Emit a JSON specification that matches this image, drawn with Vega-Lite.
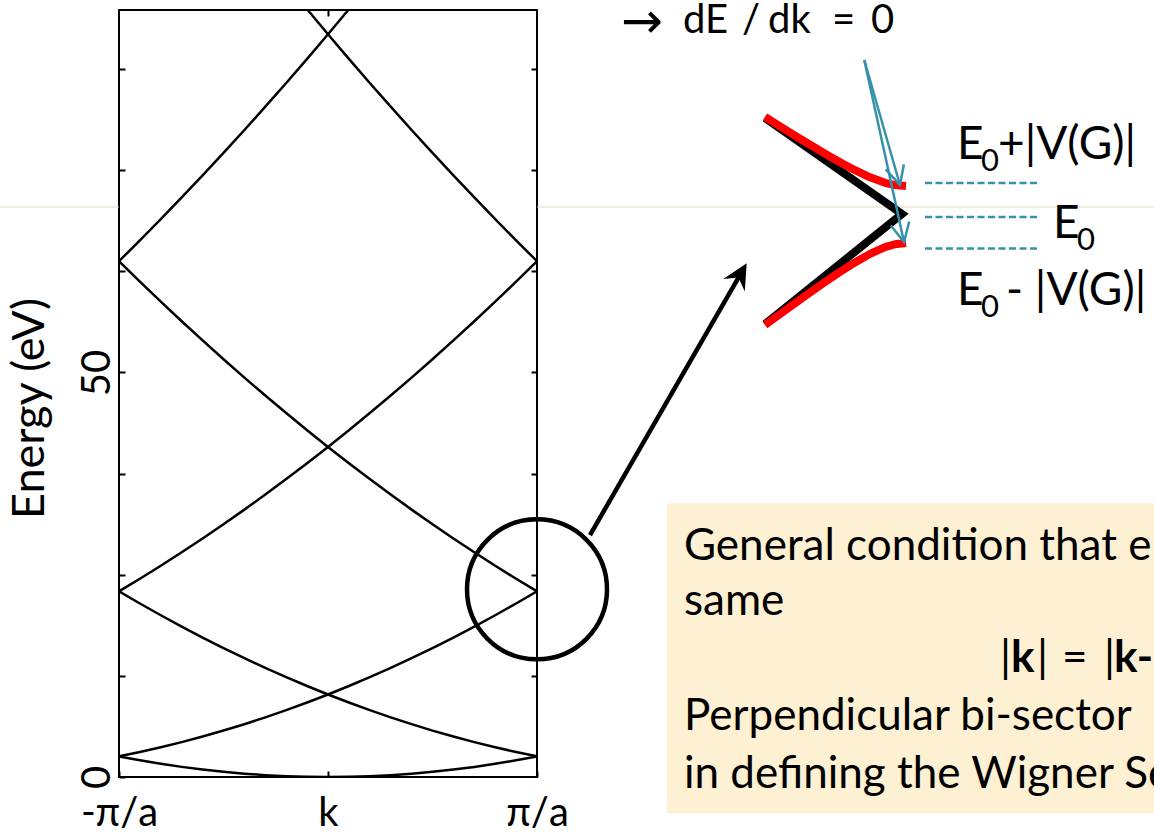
{
  "$schema": "https://vega.github.io/schema/vega-lite/v6.json",
  "width": 418,
  "height": 767,
  "autosize": {"type": "none"},
  "padding": {"left": 119, "top": 10, "right": 617, "bottom": 56},
  "background": "white",
  "config": {
    "view": {"stroke": "black", "strokeWidth": 2},
    "axis": {"grid": false},
    "font": "Lato"
  },
  "resolve": {"axis": {"x": "independent", "y": "independent"}},
  "layer": [
    {
      "data": {"values": [
        {"q": -1.6, "q2": -1.0, "E": 70.45},
        {"q": 1.0, "q2": 4.0, "E": 70.45}
      ]},
      "mark": {"type": "rule", "color": "#E4DAB8", "strokeWidth": 1},
      "encoding": {
        "x": {"field": "q", "type": "quantitative", "scale": {"domain": [-1, 1], "nice": false, "zero": false}, "axis": null},
        "x2": {"field": "q2"},
        "y": {"field": "E", "type": "quantitative", "scale": {"domain": [0, 94.8], "nice": false, "zero": false}, "axis": null}
      }
    },
    {
      "data": {"values": [
        {"q": 1.6206, "q2": 4.0, "E": 33.83, "E2": -4.49}
      ]},
      "mark": {"type": "rect", "color": "#FEF0D2"},
      "encoding": {
        "x": {"field": "q", "type": "quantitative", "scale": {"domain": [-1, 1], "nice": false, "zero": false}, "axis": null},
        "x2": {"field": "q2"},
        "y": {"field": "E", "type": "quantitative", "scale": {"domain": [0, 94.8], "nice": false, "zero": false}, "axis": null},
        "y2": {"field": "E2"}
      }
    },
    {
      "data": {"values": [
        {"b": "a", "q": -1, "E": 2.55}, {"b": "a", "q": -0.9, "E": 2.066}, {"b": "a", "q": -0.8, "E": 1.632}, {"b": "a", "q": -0.7, "E": 1.25}, {"b": "a", "q": -0.6, "E": 0.918}, {"b": "a", "q": -0.5, "E": 0.638}, {"b": "a", "q": -0.4, "E": 0.408}, {"b": "a", "q": -0.3, "E": 0.23}, {"b": "a", "q": -0.2, "E": 0.102}, {"b": "a", "q": -0.1, "E": 0.026}, {"b": "a", "q": 0, "E": 0}, {"b": "a", "q": 0.1, "E": 0.026}, {"b": "a", "q": 0.2, "E": 0.102}, {"b": "a", "q": 0.3, "E": 0.23}, {"b": "a", "q": 0.4, "E": 0.408}, {"b": "a", "q": 0.5, "E": 0.638}, {"b": "a", "q": 0.6, "E": 0.918}, {"b": "a", "q": 0.7, "E": 1.25}, {"b": "a", "q": 0.8, "E": 1.632}, {"b": "a", "q": 0.9, "E": 2.066}, {"b": "a", "q": 1, "E": 2.55},
        {"b": "b", "q": -1, "E": 2.55}, {"b": "b", "q": -0.9, "E": 3.086}, {"b": "b", "q": -0.8, "E": 3.672}, {"b": "b", "q": -0.7, "E": 4.31}, {"b": "b", "q": -0.6, "E": 4.998}, {"b": "b", "q": -0.5, "E": 5.738}, {"b": "b", "q": -0.4, "E": 6.528}, {"b": "b", "q": -0.3, "E": 7.37}, {"b": "b", "q": -0.2, "E": 8.262}, {"b": "b", "q": -0.1, "E": 9.206}, {"b": "b", "q": 0, "E": 10.2}, {"b": "b", "q": 0.1, "E": 11.246}, {"b": "b", "q": 0.2, "E": 12.342}, {"b": "b", "q": 0.3, "E": 13.49}, {"b": "b", "q": 0.4, "E": 14.688}, {"b": "b", "q": 0.5, "E": 15.938}, {"b": "b", "q": 0.6, "E": 17.238}, {"b": "b", "q": 0.7, "E": 18.59}, {"b": "b", "q": 0.8, "E": 19.992}, {"b": "b", "q": 0.9, "E": 21.446}, {"b": "b", "q": 1, "E": 22.95},
        {"b": "c", "q": 1, "E": 2.55}, {"b": "c", "q": 0.9, "E": 3.086}, {"b": "c", "q": 0.8, "E": 3.672}, {"b": "c", "q": 0.7, "E": 4.31}, {"b": "c", "q": 0.6, "E": 4.998}, {"b": "c", "q": 0.5, "E": 5.738}, {"b": "c", "q": 0.4, "E": 6.528}, {"b": "c", "q": 0.3, "E": 7.37}, {"b": "c", "q": 0.2, "E": 8.262}, {"b": "c", "q": 0.1, "E": 9.206}, {"b": "c", "q": 0, "E": 10.2}, {"b": "c", "q": -0.1, "E": 11.246}, {"b": "c", "q": -0.2, "E": 12.342}, {"b": "c", "q": -0.3, "E": 13.49}, {"b": "c", "q": -0.4, "E": 14.688}, {"b": "c", "q": -0.5, "E": 15.938}, {"b": "c", "q": -0.6, "E": 17.238}, {"b": "c", "q": -0.7, "E": 18.59}, {"b": "c", "q": -0.8, "E": 19.992}, {"b": "c", "q": -0.9, "E": 21.446}, {"b": "c", "q": -1, "E": 22.95},
        {"b": "d", "q": -1, "E": 22.95}, {"b": "d", "q": -0.9, "E": 24.506}, {"b": "d", "q": -0.8, "E": 26.112}, {"b": "d", "q": -0.7, "E": 27.77}, {"b": "d", "q": -0.6, "E": 29.478}, {"b": "d", "q": -0.5, "E": 31.238}, {"b": "d", "q": -0.4, "E": 33.048}, {"b": "d", "q": -0.3, "E": 34.91}, {"b": "d", "q": -0.2, "E": 36.822}, {"b": "d", "q": -0.1, "E": 38.786}, {"b": "d", "q": 0, "E": 40.8}, {"b": "d", "q": 0.1, "E": 42.866}, {"b": "d", "q": 0.2, "E": 44.982}, {"b": "d", "q": 0.3, "E": 47.15}, {"b": "d", "q": 0.4, "E": 49.368}, {"b": "d", "q": 0.5, "E": 51.638}, {"b": "d", "q": 0.6, "E": 53.958}, {"b": "d", "q": 0.7, "E": 56.33}, {"b": "d", "q": 0.8, "E": 58.752}, {"b": "d", "q": 0.9, "E": 61.226}, {"b": "d", "q": 1, "E": 63.75},
        {"b": "e", "q": 1, "E": 22.95}, {"b": "e", "q": 0.9, "E": 24.506}, {"b": "e", "q": 0.8, "E": 26.112}, {"b": "e", "q": 0.7, "E": 27.77}, {"b": "e", "q": 0.6, "E": 29.478}, {"b": "e", "q": 0.5, "E": 31.238}, {"b": "e", "q": 0.4, "E": 33.048}, {"b": "e", "q": 0.3, "E": 34.91}, {"b": "e", "q": 0.2, "E": 36.822}, {"b": "e", "q": 0.1, "E": 38.786}, {"b": "e", "q": 0, "E": 40.8}, {"b": "e", "q": -0.1, "E": 42.866}, {"b": "e", "q": -0.2, "E": 44.982}, {"b": "e", "q": -0.3, "E": 47.15}, {"b": "e", "q": -0.4, "E": 49.368}, {"b": "e", "q": -0.5, "E": 51.638}, {"b": "e", "q": -0.6, "E": 53.958}, {"b": "e", "q": -0.7, "E": 56.33}, {"b": "e", "q": -0.8, "E": 58.752}, {"b": "e", "q": -0.9, "E": 61.226}, {"b": "e", "q": -1, "E": 63.75},
        {"b": "f", "q": -1, "E": 63.75}, {"b": "f", "q": -0.9, "E": 66.326}, {"b": "f", "q": -0.8, "E": 68.952}, {"b": "f", "q": -0.7, "E": 71.63}, {"b": "f", "q": -0.6, "E": 74.358}, {"b": "f", "q": -0.5, "E": 77.138}, {"b": "f", "q": -0.4, "E": 79.968}, {"b": "f", "q": -0.3, "E": 82.85}, {"b": "f", "q": -0.2, "E": 85.782}, {"b": "f", "q": -0.1, "E": 88.766}, {"b": "f", "q": 0, "E": 91.8}, {"b": "f", "q": 0.1, "E": 94.886}, {"b": "f", "q": 0.2, "E": 98.022},
        {"b": "g", "q": 1, "E": 63.75}, {"b": "g", "q": 0.9, "E": 66.326}, {"b": "g", "q": 0.8, "E": 68.952}, {"b": "g", "q": 0.7, "E": 71.63}, {"b": "g", "q": 0.6, "E": 74.358}, {"b": "g", "q": 0.5, "E": 77.138}, {"b": "g", "q": 0.4, "E": 79.968}, {"b": "g", "q": 0.3, "E": 82.85}, {"b": "g", "q": 0.2, "E": 85.782}, {"b": "g", "q": 0.1, "E": 88.766}, {"b": "g", "q": 0, "E": 91.8}, {"b": "g", "q": -0.1, "E": 94.886}, {"b": "g", "q": -0.2, "E": 98.022}
      ]},
      "mark": {"type": "line", "color": "black", "strokeWidth": 2.5, "clip": true},
      "encoding": {
        "x": {"field": "q", "type": "quantitative", "scale": {"domain": [-1, 1], "nice": false, "zero": false},
          "axis": {"orient": "bottom", "values": [-1, 0, 1], "labelExpr": "datum.value == 0 ? 'k' : (datum.value < 0 ? '-π/a' : 'π/a')",
            "tickSize": -6, "tickWidth": 2, "tickColor": "black", "domain": false, "labelFontSize": 40, "labelFont": "Lato", "labelColor": "black",
            "labelPadding": 54, "labelBaseline": "alphabetic", "labelAlign": "center", "labelFlush": false, "labelOverlap": false, "title": null}},
        "y": {"field": "E", "type": "quantitative", "scale": {"domain": [0, 94.8], "nice": false, "zero": false},
          "axis": {"orient": "left", "values": [0, 12.5, 25, 37.5, 50, 62.5, 75, 87.5], "labelExpr": "datum.value == 0 ? '0' : (datum.value == 50 ? '50' : '')",
            "tickSize": -6, "tickWidth": 2, "tickColor": "black", "domain": false, "labelFontSize": 40, "labelFont": "Lato", "labelColor": "black",
            "labelAngle": -90, "labelPadding": 16, "labelBaseline": "alphabetic", "labelAlign": "center", "labelFlush": false, "labelOverlap": false,
            "title": "Energy (eV)", "titleFont": "Lato", "titleFontSize": 45, "titleFontWeight": "normal", "titleColor": "black",
            "titleAngle": 270, "titleX": -76, "titleY": 398, "titleAlign": "center", "titleBaseline": "alphabetic"}},
        "detail": {"field": "b"}
      }
    },
    {
      "data": {"values": [{"q": 1.0, "E": 23.2}]},
      "mark": {"type": "point", "shape": "circle", "size": 19600, "filled": false, "stroke": "black", "strokeWidth": 4.5, "opacity": 1},
      "encoding": {
        "x": {"field": "q", "type": "quantitative", "scale": {"domain": [-1, 1], "nice": false, "zero": false},
          "axis": {"orient": "top", "values": [0], "tickSize": -6, "tickWidth": 2, "tickColor": "black", "labels": false, "domain": false, "title": null}},
        "y": {"field": "E", "type": "quantitative", "scale": {"domain": [0, 94.8], "nice": false, "zero": false},
          "axis": {"orient": "right", "values": [12.5, 25, 37.5, 50, 62.5, 75, 87.5], "tickSize": -6, "tickWidth": 2, "tickColor": "black", "labels": false, "domain": false, "title": null}}
      }
    },
    {
      "data": {"values": [{"q": 1.2536, "E": 29.91, "q2": 1.973, "E2": 62.13}]},
      "mark": {"type": "rule", "color": "black", "strokeWidth": 4.5, "strokeCap": "butt"},
      "encoding": {
        "x": {"field": "q", "type": "quantitative", "scale": {"domain": [-1, 1], "nice": false, "zero": false}, "axis": null},
        "y": {"field": "E", "type": "quantitative", "scale": {"domain": [0, 94.8], "nice": false, "zero": false}, "axis": null},
        "x2": {"field": "q2"},
        "y2": {"field": "E2"}
      }
    },
    {
      "data": {"values": [{"q": 1.973, "E": 62.13, "a": 30}]},
      "mark": {"type": "point", "shape": "M0,-1L0.98,1L0,0.3L-0.98,1Z", "size": 645, "filled": true, "color": "black", "opacity": 1, "strokeWidth": 0},
      "encoding": {
        "x": {"field": "q", "type": "quantitative", "scale": {"domain": [-1, 1], "nice": false, "zero": false}, "axis": null},
        "y": {"field": "E", "type": "quantitative", "scale": {"domain": [0, 94.8], "nice": false, "zero": false}, "axis": null},
        "angle": {"field": "a", "type": "quantitative", "scale": null}
      }
    },
    {
      "data": {"values": [
        {"i": 1, "q": 2.0909, "E": 81.45},
        {"i": 2, "q": 2.7464, "E": 69.59},
        {"i": 3, "q": 2.0909, "E": 55.99}
      ]},
      "mark": {"type": "line", "color": "black", "strokeWidth": 8, "strokeJoin": "miter", "strokeCap": "butt"},
      "encoding": {
        "x": {"field": "q", "type": "quantitative", "scale": {"domain": [-1, 1], "nice": false, "zero": false}, "axis": null},
        "y": {"field": "E", "type": "quantitative", "scale": {"domain": [0, 94.8], "nice": false, "zero": false}, "axis": null},
        "order": {"field": "i"}
      }
    },
    {
      "data": {"values": [
        {"c": "u", "i": 1, "q": 2.0909, "E": 81.6}, {"c": "u", "i": 2, "q": 2.1627, "E": 80.43}, {"c": "u", "i": 3, "q": 2.2344, "E": 79.28}, {"c": "u", "i": 4, "q": 2.3062, "E": 78.15}, {"c": "u", "i": 5, "q": 2.378, "E": 77.04}, {"c": "u", "i": 6, "q": 2.4498, "E": 75.99}, {"c": "u", "i": 7, "q": 2.5215, "E": 75.0}, {"c": "u", "i": 8, "q": 2.5933, "E": 74.12}, {"c": "u", "i": 9, "q": 2.6651, "E": 73.44}, {"c": "u", "i": 10, "q": 2.7129, "E": 73.16}, {"c": "u", "i": 11, "q": 2.7656, "E": 73.05},
        {"c": "l", "i": 1, "q": 2.0909, "E": 55.87}, {"c": "l", "i": 2, "q": 2.1627, "E": 57.21}, {"c": "l", "i": 3, "q": 2.2344, "E": 58.56}, {"c": "l", "i": 4, "q": 2.3062, "E": 59.88}, {"c": "l", "i": 5, "q": 2.378, "E": 61.18}, {"c": "l", "i": 6, "q": 2.4498, "E": 62.43}, {"c": "l", "i": 7, "q": 2.5215, "E": 63.6}, {"c": "l", "i": 8, "q": 2.5933, "E": 64.66}, {"c": "l", "i": 9, "q": 2.6651, "E": 65.49}, {"c": "l", "i": 10, "q": 2.7129, "E": 65.85}, {"c": "l", "i": 11, "q": 2.7656, "E": 66.0}
      ]},
      "mark": {"type": "line", "color": "#FF0000", "strokeWidth": 8, "strokeCap": "butt", "strokeJoin": "round"},
      "encoding": {
        "x": {"field": "q", "type": "quantitative", "scale": {"domain": [-1, 1], "nice": false, "zero": false}, "axis": null},
        "y": {"field": "E", "type": "quantitative", "scale": {"domain": [0, 94.8], "nice": false, "zero": false}, "axis": null},
        "detail": {"field": "c"},
        "order": {"field": "i"}
      }
    },
    {
      "data": {"values": [
        {"q": 2.8565, "q2": 3.3923, "E": 73.42},
        {"q": 2.8565, "q2": 3.3923, "E": 69.22},
        {"q": 2.8565, "q2": 3.3923, "E": 65.32}
      ]},
      "mark": {"type": "rule", "color": "#3592AA", "strokeWidth": 2.5, "strokeDash": [7, 3.5]},
      "encoding": {
        "x": {"field": "q", "type": "quantitative", "scale": {"domain": [-1, 1], "nice": false, "zero": false}, "axis": null},
        "x2": {"field": "q2"},
        "y": {"field": "E", "type": "quantitative", "scale": {"domain": [0, 94.8], "nice": false, "zero": false}, "axis": null}
      }
    },
    {
      "data": {"values": [
        {"q": 2.566, "E": 88.62, "q2": 2.7368, "E2": 73.17},
        {"q": 2.566, "E": 88.62, "q2": 2.756, "E2": 66.13}
      ]},
      "mark": {"type": "rule", "color": "#3592AA", "strokeWidth": 2.5},
      "encoding": {
        "x": {"field": "q", "type": "quantitative", "scale": {"domain": [-1, 1], "nice": false, "zero": false}, "axis": null},
        "y": {"field": "E", "type": "quantitative", "scale": {"domain": [0, 94.8], "nice": false, "zero": false}, "axis": null},
        "x2": {"field": "q2"},
        "y2": {"field": "E2"}
      }
    },
    {
      "data": {"values": [
        {"q": 2.723, "E": 74.42, "a": 164},
        {"q": 2.7455, "E": 67.4, "a": 167.7}
      ]},
      "mark": {"type": "point", "shape": "M-0.9,0.8L0,-1L0.9,0.8", "size": 441, "filled": false, "stroke": "#3592AA", "strokeWidth": 2.5, "opacity": 1},
      "encoding": {
        "x": {"field": "q", "type": "quantitative", "scale": {"domain": [-1, 1], "nice": false, "zero": false}, "axis": null},
        "y": {"field": "E", "type": "quantitative", "scale": {"domain": [0, 94.8], "nice": false, "zero": false}, "axis": null},
        "angle": {"field": "a", "type": "quantitative", "scale": null}
      }
    },
    {
      "data": {"values": [
        {"t": "→", "q": 1.4019, "E": 91.34, "s": 50}
      ]},
      "mark": {"type": "text", "align": "left", "baseline": "alphabetic", "font": "DejaVu Sans", "color": "black"},
      "encoding": {
        "x": {"field": "q", "type": "quantitative", "scale": {"domain": [-1, 1], "nice": false, "zero": false}, "axis": null},
        "y": {"field": "E", "type": "quantitative", "scale": {"domain": [0, 94.8], "nice": false, "zero": false}, "axis": null},
        "text": {"field": "t"},
        "size": {"field": "s", "type": "quantitative", "scale": null}
      }
    },
    {
      "data": {"values": [
        {"t": "dE", "q": 1.6986, "E": 91.92, "s": 40},
        {"t": "/", "q": 1.9809, "E": 91.92, "s": 40},
        {"t": "dk", "q": 2.1053, "E": 91.92, "s": 40},
        {"t": "=", "q": 2.4115, "E": 91.92, "s": 40},
        {"t": "0", "q": 2.5981, "E": 91.92, "s": 40},
        {"t": "E", "q": 3.0096, "E": 76.35, "s": 46},
        {"t": "0", "q": 3.1244, "E": 74.94, "s": 31},
        {"t": "+|V(G)|", "q": 3.2057, "E": 76.35, "s": 46},
        {"t": "E", "q": 3.4689, "E": 66.58, "s": 46},
        {"t": "0", "q": 3.5837, "E": 65.14, "s": 31},
        {"t": "E", "q": 3.0096, "E": 58.34, "s": 46},
        {"t": "0", "q": 3.1244, "E": 56.89, "s": 31},
        {"t": "- |V(G)|", "q": 3.244, "E": 58.34, "s": 46},
        {"t": "General condition that energies are the", "q": 1.7033, "E": 26.82, "s": 44},
        {"t": "same", "q": 1.7033, "E": 20.02, "s": 44},
        {"t": "|", "q": 3.2153, "E": 13.01, "s": 44},
        {"t": "|", "q": 3.3923, "E": 13.01, "s": 44},
        {"t": "=", "q": 3.512, "E": 13.01, "s": 44},
        {"t": "|", "q": 3.7129, "E": 13.01, "s": 44},
        {"t": "Perpendicular bi-sector", "q": 1.7033, "E": 5.81, "s": 44},
        {"t": "in defining the Wigner Seitz cell", "q": 1.7033, "E": -1.4, "s": 44}
      ]},
      "mark": {"type": "text", "align": "left", "baseline": "alphabetic", "font": "Lato", "color": "black"},
      "encoding": {
        "x": {"field": "q", "type": "quantitative", "scale": {"domain": [-1, 1], "nice": false, "zero": false}, "axis": null},
        "y": {"field": "E", "type": "quantitative", "scale": {"domain": [0, 94.8], "nice": false, "zero": false}, "axis": null},
        "text": {"field": "t"},
        "size": {"field": "s", "type": "quantitative", "scale": null}
      }
    },
    {
      "data": {"values": [
        {"t": "k", "q": 3.2679, "E": 13.01, "s": 44},
        {"t": "k-G|", "q": 3.7608, "E": 13.01, "s": 44}
      ]},
      "mark": {"type": "text", "align": "left", "baseline": "alphabetic", "font": "Lato", "fontWeight": "bold", "color": "black"},
      "encoding": {
        "x": {"field": "q", "type": "quantitative", "scale": {"domain": [-1, 1], "nice": false, "zero": false}, "axis": null},
        "y": {"field": "E", "type": "quantitative", "scale": {"domain": [0, 94.8], "nice": false, "zero": false}, "axis": null},
        "text": {"field": "t"},
        "size": {"field": "s", "type": "quantitative", "scale": null}
      }
    }
  ]
}
